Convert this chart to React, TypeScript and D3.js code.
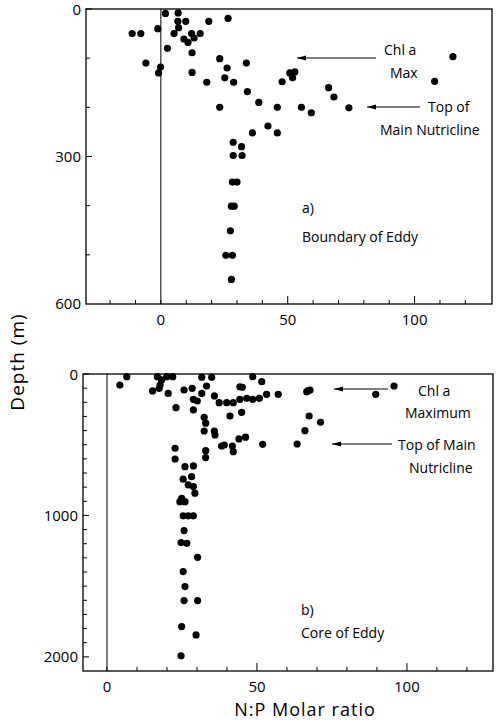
import * as d3 from "d3";

// a) Boundary of Eddy : N:P ratio vs depth (m)
const boundaryNP = [
  1.8, 6.8, 6.7, 7, 9.8, 18.9, 26.5, -11.3, -7.9, -1.2, 5.2, 9.1, 10.7, 12.1, 13.1, 15.5,
  2.6, 12.3, 23.2, 33.7, -5.9, -0.1, -0.9, 12.3, 26.1, 25.2, 28.7, 18.1, 34.1, 23.2,
  38.6, 45.9, 47.8, 50.8, 52.8, 51.9, 55.4, 59.3, 66.1, 68.2, 74.1, 107.9, 115.1,
  36.1, 42.2, 45.9, 28.5, 31.8, 28.5, 32, 28.2, 30, 27.8, 28.9, 27.4, 25.6, 28.2, 27.8,
];
const boundaryDepth = [
  9, 8, 25, 38, 25, 25, 19, 50, 50, 40, 50, 61, 68, 50, 59, 50,
  80, 89, 101, 110, 110, 118, 130, 129, 120, 140, 149, 149, 168, 200,
  190, 200, 148, 130, 128, 140, 200, 211, 160, 179, 201, 147, 97,
  252, 238, 252, 271, 280, 298, 298, 352, 352, 401, 401, 451, 501, 501, 550,
];

// b) Core of Eddy
const coreNP = [
  4.3, 6.6, 16.8, 19.9, 21.9, 17.7, 15.2, 17.4, 20.4, 18.2, 25.7, 28.4, 28.8, 30.1, 31.6,
  31.6, 34.9, 33.2, 35.8, 37.4, 39.9, 42.1, 44.3, 46.6, 48.6, 50.8, 53.2, 44.3, 45.1,
  48.6, 51.6, 57.1, 23, 28.8, 41, 44.9, 32.4, 32.9, 32.4, 35.8, 36, 38.2, 39.1, 41.8,
  42.1, 44, 46.2, 51.9, 63.4, 66, 67.4, 66.6, 67.1, 67.7, 89.6, 95.7, 71.2,
  22.7, 22.7, 32.9, 32.9, 26, 28.8, 25.4, 27.1, 28.2, 28.8, 29.3, 24.9,
  24.3, 26, 25.4, 27.1, 28.8, 25.7, 24.7, 26.6, 30.2, 25.4, 26, 25.7, 30.2, 24.9, 29.7, 24.7,
];
const coreDepth = [
  78, 19, 19, 19, 19, 78, 120, 101, 137, 42, 113, 101, 179, 191, 137,
  23, 23, 85, 155, 203, 203, 203, 179, 172, 179, 172, 144, 90, 94,
  19, 54, 144, 238, 254, 297, 271, 306, 348, 403, 403, 431, 509, 502, 509,
  549, 459, 447, 497, 495, 401, 297, 125, 118, 113, 144, 85, 341,
  525, 601, 542, 591, 655, 650, 744, 784, 726, 796, 843, 879,
  903, 903, 1003, 1003, 1003, 1107, 1192, 1197, 1296, 1397, 1503, 1602, 1602, 1786, 1845, 1993,
];

const xTicks = d3.range(-20, 130, 10);
const xLabels = [0, 50, 100];

const FONT = "'Open Sans', 'DejaVu Sans', sans-serif";

// each label line: [text, x, y]
type Note = { lines: [string, number, number][]; arrow?: [number, number, number] };

function Panel({
  np, depth, left, right, top, bottom, xDomain, yMax, yStep, yLabels, notes,
}: {
  np: number[]; depth: number[]; left: number; right: number; top: number; bottom: number;
  xDomain: [number, number]; yMax: number; yStep: number; yLabels: number[]; notes: Note[];
}) {
  const x = d3.scaleLinear().domain(xDomain).range([left, right]);
  const y = d3.scaleLinear().domain([0, yMax]).range([top, bottom]);
  const yTicks = d3.range(0, yMax, yStep);
  return (
    <g>
      <rect x={left} y={top} width={right - left} height={bottom - top} fill="none" stroke="#000" strokeWidth={1.3} />
      <line x1={x(0)} x2={x(0)} y1={top} y2={bottom} stroke="#000" strokeWidth={1} />
      {yTicks.map((t) => (
        <line key={t} x1={left} x2={left + (yLabels.includes(t) ? 6 : 4)} y1={y(t)} y2={y(t)} stroke="#000" strokeWidth={1} />
      ))}
      {yLabels.map((t) => (
        <text key={t} x={left - 5} y={Math.max(y(t), top + 1)} dy="0.35em" textAnchor="end" fontSize={15} fontFamily={FONT}>{t}</text>
      ))}
      {xTicks.filter((t) => x(t) > left + 2).map((t) => (
        <line key={t} x1={x(t)} x2={x(t)} y1={bottom} y2={bottom - (t % 50 === 0 && t !== 0 ? 8 : 4)} stroke="#000" strokeWidth={1} />
      ))}
      {xLabels.map((t) => (
        <text key={t} x={x(t)} y={bottom + 16} dy="0.35em" textAnchor="middle" fontSize={15} fontFamily={FONT}>{t}</text>
      ))}
      {np.map((v, i) => (
        <circle key={i} cx={x(v)} cy={y(depth[i])} r={3.6} fill="#000" />
      ))}
      {notes.map((n, i) => (
        <g key={i}>
          {n.lines.map(([l, lx, ly], j) => (
            <text key={j} x={lx} y={ly} fontSize={14} fontFamily={FONT}>{l}</text>
          ))}
          {n.arrow && (
            <g>
              <line x1={n.arrow[0]} x2={n.arrow[1]} y1={n.arrow[2]} y2={n.arrow[2]} stroke="#000" strokeWidth={1} />
              <path d={`M${n.arrow[1]},${n.arrow[2]} l9,-2.5 l0,5 z`} fill="#000" />
            </g>
          )}
        </g>
      ))}
    </g>
  );
}

export default function App() {
  return (
    <svg width={499} height={725} style={{ position: "absolute", left: 0, top: 0, background: "#fff" }}>
      <Panel
        np={boundaryNP} depth={boundaryDepth}
        left={86} right={492} top={9} bottom={304}
        xDomain={[-29.5, 130.5]} yMax={600} yStep={100} yLabels={[0, 300, 600]}
        notes={[
          { lines: [["Chl  a", 384, 55], ["Max", 390, 78]], arrow: [376, 297, 58] },
          { lines: [["Top of", 428, 112], ["Main Nutricline", 380, 135]], arrow: [420, 367, 107] },
          { lines: [["a)", 302, 213]] },
          { lines: [["Boundary of  Eddy", 302, 242]] },
        ]}
      />
      <Panel
        np={coreNP} depth={coreDepth}
        left={83} right={493} top={374} bottom={671}
        xDomain={[-8, 128.7]} yMax={2100} yStep={100} yLabels={[0, 1000, 2000]}
        notes={[
          { lines: [["Chl  a", 418, 396], ["Maximum", 405, 418]], arrow: [388, 334, 389] },
          { lines: [["Top of Main", 398, 450], ["Nutricline", 409, 473]], arrow: [392, 332, 444] },
          { lines: [["b)", 301, 615]] },
          { lines: [["Core of  Eddy", 301, 638]] },
        ]}
      />
      <text transform="translate(17,362) rotate(-90)" textAnchor="middle" dy="0.35em" fontSize={19} fontFamily={FONT} letterSpacing={1}>
        Depth (m)
      </text>
      <text x={305} y={710} textAnchor="middle" dy="0.35em" fontSize={18} fontFamily={FONT} letterSpacing={1}>
        N:P  Molar  ratio
      </text>
    </svg>
  );
}
